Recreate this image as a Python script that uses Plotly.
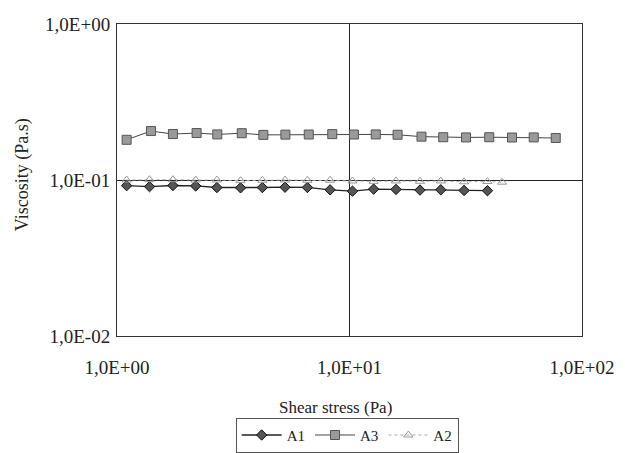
import plotly.graph_objects as go

# Shear stress (Pa) for each series
stress_a1 = [1.10, 1.38, 1.74, 2.18, 2.69, 3.40, 4.22, 5.28, 6.59, 8.25,
             10.3, 12.7, 15.85, 20.1, 24.7, 31.1, 39.2]
stress_a3 = [1.10, 1.40, 1.74, 2.20, 2.70, 3.44, 4.26, 5.30, 6.68, 8.43,
             10.45, 12.97, 16.1, 20.4, 25.3, 31.7, 39.9, 50.0, 62.0, 77.1]
stress_a2 = [1.10, 1.38, 1.74, 2.18, 2.69, 3.40, 4.22, 5.28, 6.59, 8.25,
             10.3, 12.7, 15.85, 20.1, 24.7, 31.1, 39.2, 45.3]

# Viscosity (Pa.s)
visc_a1 = [0.092, 0.0907, 0.0922, 0.0916, 0.0895, 0.0891, 0.0895, 0.0899, 0.0896,
           0.0865, 0.0848, 0.0874, 0.087, 0.0862, 0.0866, 0.0857, 0.0854]
visc_a3 = [0.181, 0.206, 0.197, 0.200, 0.196, 0.1995, 0.1946, 0.1954, 0.1957, 0.1968,
           0.1957, 0.196, 0.195, 0.1896, 0.188, 0.1875, 0.188, 0.1872, 0.1875, 0.1859]
visc_a2 = [0.100, 0.1005, 0.1005, 0.0999, 0.100, 0.099, 0.0996, 0.100, 0.0996, 0.0996,
           0.0986, 0.098, 0.0986, 0.0981, 0.0986, 0.0974, 0.0978, 0.0968]

x_tickvals = [1, 10, 100]
x_ticktext = ["1,0E+00", "1,0E+01", "1,0E+02"]
y_tickvals = [0.01, 0.1, 1]
y_ticktext = ["1,0E-02", "1,0E-01", "1,0E+00"]

FONT = "Liberation Serif"

fig = go.Figure()
fig.add_trace(go.Scatter(
    x=stress_a1, y=visc_a1, name="A1", mode="lines+markers",
    line=dict(color="#222222", width=1.3),
    marker=dict(symbol="diamond", size=8, color="#555555",
                line=dict(color="#111111", width=1)),
))
fig.add_trace(go.Scatter(
    x=stress_a3, y=visc_a3, name="A3", mode="lines+markers",
    line=dict(color="#444444", width=1),
    marker=dict(symbol="square", size=9, color="#9a9a9a",
                line=dict(color="#555555", width=1)),
))
fig.add_trace(go.Scatter(
    x=stress_a2, y=visc_a2, name="A2", mode="lines+markers",
    line=dict(color="#aaaaaa", width=1, dash="dot"),
    marker=dict(symbol="triangle-up-open", size=8, color="#999999",
                line=dict(width=1)),
))

fig.update_layout(
    width=625, height=453,
    margin=dict(l=117, r=43, t=24, b=117, autoexpand=False),
    paper_bgcolor="white", plot_bgcolor="white",
    font=dict(family=FONT, size=19, color="#222222"),
    showlegend=True,
    legend=dict(
        orientation="h", x=0.495, xanchor="center", y=-0.262, yanchor="top",
        bordercolor="#555555", borderwidth=1, bgcolor="white",
        font=dict(family=FONT, size=15, color="#222222"), itemwidth=40,
        tracegroupgap=0,
    ),
    xaxis=dict(
        type="log", range=[0, 2],
        tickvals=x_tickvals, ticktext=x_ticktext,
        tickfont=dict(family=FONT, size=19, color="#222222"),
        ticks="outside", ticklen=14, tickcolor="rgba(0,0,0,0)",
        showgrid=True, gridcolor="#222222", gridwidth=1,
        showline=True, linecolor="#333333", linewidth=1, mirror=True,
        zeroline=False,
    ),
    yaxis=dict(
        type="log", range=[-2, 0],
        tickvals=y_tickvals, ticktext=y_ticktext,
        tickfont=dict(family=FONT, size=19, color="#222222"),
        ticks="outside", ticklen=2, tickcolor="rgba(0,0,0,0)",
        showgrid=True, gridcolor="#222222", gridwidth=1,
        showline=True, linecolor="#333333", linewidth=1, mirror=True,
        zeroline=False,
    ),
    annotations=[
        dict(text="Shear stress (Pa)", xref="paper", yref="paper",
             x=0.469, y=-0.2276, xanchor="center", yanchor="middle",
             showarrow=False, font=dict(family=FONT, size=17, color="#222222")),
        dict(text="Viscosity (Pa.s)", xref="paper", yref="paper",
             x=-0.204, y=0.516, xanchor="center", yanchor="middle",
             textangle=-90, showarrow=False,
             font=dict(family=FONT, size=18, color="#222222")),
    ],
)

fig.write_html("out.html")
